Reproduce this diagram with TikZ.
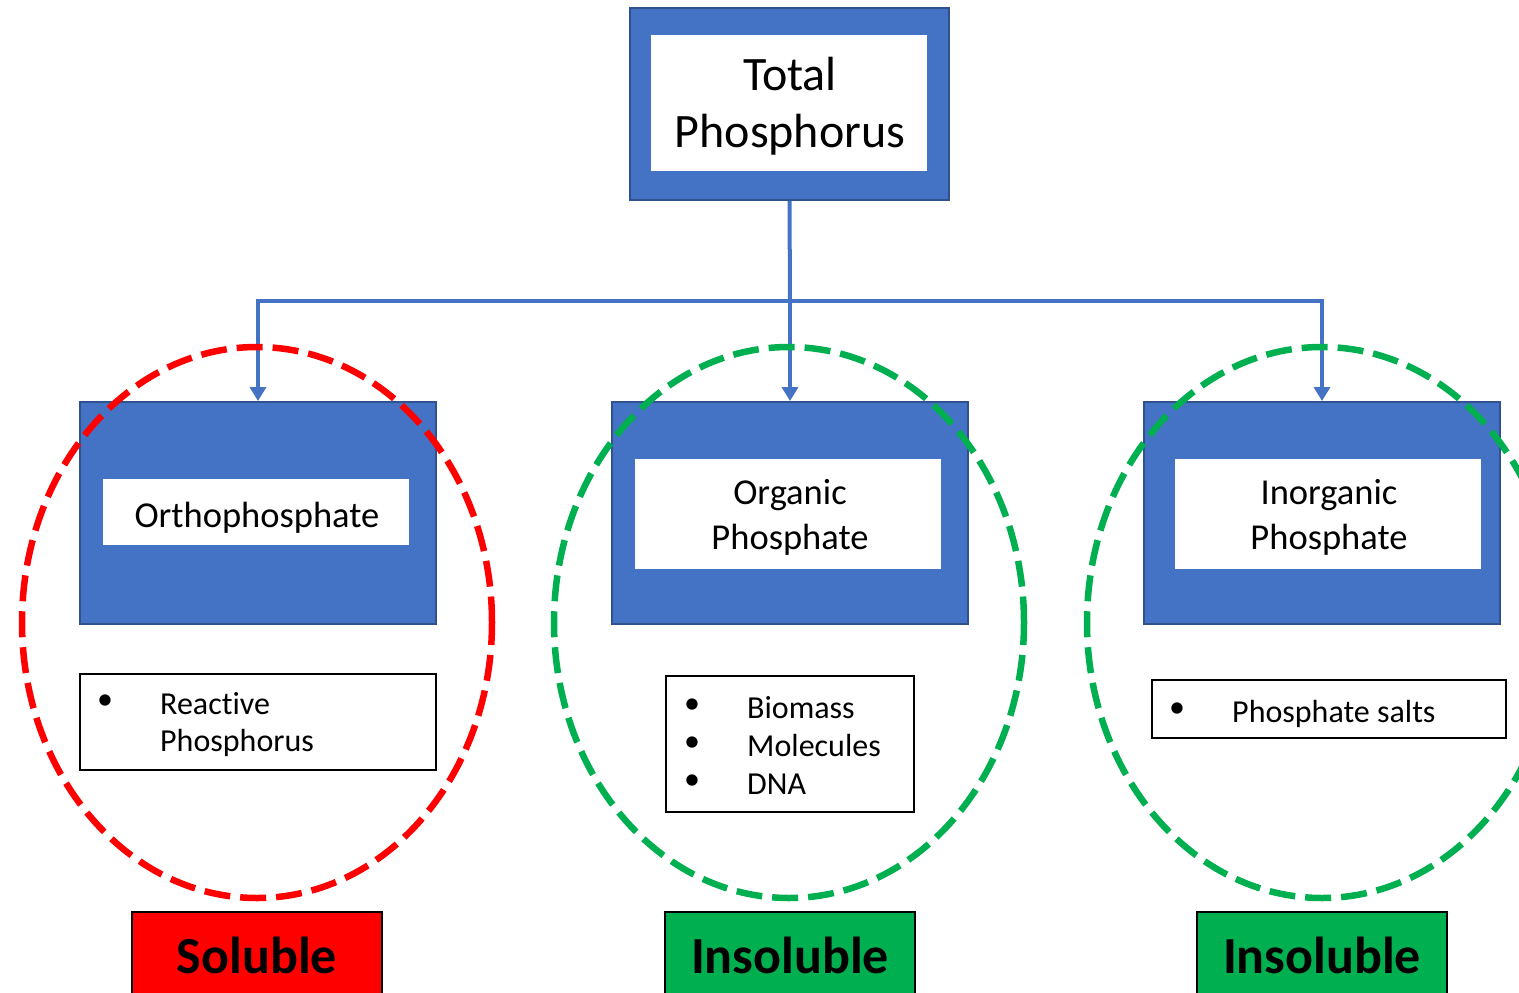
\documentclass[tikz,border=0pt]{standalone}
\usepackage{fontspec}
\setmainfont[Ligatures=NoCommon]{Carlito}
\usetikzlibrary{arrows.meta}
\definecolor{pblue}{HTML}{4472C4}
\definecolor{pdark}{HTML}{2F528F}
\definecolor{pgreen}{HTML}{00B050}
\definecolor{pred}{HTML}{FF0000}
\begin{document}
\begin{tikzpicture}[x=1pt,y=-1pt,
  outerbox/.style={draw=pdark, line width=2pt, fill=pblue, inner sep=0pt},
  innerbox/.style={fill=white, inner sep=0pt},
  listbox/.style={draw=black, line width=1.5pt, fill=white, inner sep=0pt},
  bigtxt/.style={font=\fontsize{48}{58}\selectfont, inner sep=0pt},
  midtxt/.style={font=\fontsize{36.5}{44}\selectfont, inner sep=0pt},
  smalltxt/.style={font=\fontsize{32}{38}\selectfont, inner sep=0pt},
  tagtxt/.style={font=\fontsize{52}{60}\selectfont\bfseries, inner sep=0pt},
  tagbox/.style={draw=black, line width=1.5pt, inner sep=0pt, minimum width=250pt, minimum height=100pt},
  conn/.style={draw=pblue, line width=4pt},
  arr/.style={conn, -{Triangle[width=16pt,length=14pt]}},
  reddash/.style={draw=pred, line width=6.5pt, dash pattern=on 26pt off 10pt},
  greendash/.style={draw=pgreen, line width=6.5pt, dash pattern=on 26pt off 10pt}
]
\clip (0,0) rectangle (1519,993);
\fill[white] (0,0) rectangle (1519,993);

% top box
\node[outerbox, minimum width=319pt, minimum height=192pt] (top) at (789.5,104) {};
\node[innerbox, minimum width=276pt, minimum height=136pt] (topin) at (789,103) {};
\node[bigtxt, anchor=base] (t1) at (790,90) {Total};
\node[bigtxt, anchor=base] (t2) at (790,147) {Phosphorus};

% category boxes
\node[outerbox, minimum width=356pt, minimum height=222pt] (o1) at (258,513) {};
\node[innerbox, minimum width=306pt, minimum height=66pt] (i1) at (256,512) {};
\node[midtxt, anchor=base] (l1) at (257,527) {Orthophosphate};

\node[outerbox, minimum width=356pt, minimum height=222pt] (o2) at (790,513) {};
\node[innerbox, minimum width=306pt, minimum height=110pt] (i2) at (788,514) {};
\node[midtxt, anchor=base] (l2a) at (790,504) {Organic};
\node[midtxt, anchor=base] (l2b) at (790,549) {Phosphate};

\node[outerbox, minimum width=356pt, minimum height=222pt] (o3) at (1322,513) {};
\node[innerbox, minimum width=306pt, minimum height=110pt] (i3) at (1328,514) {};
\node[midtxt, anchor=base] (l3a) at (1329,504) {Inorganic};
\node[midtxt, anchor=base] (l3b) at (1329,549) {Phosphate};

% connectors
\coordinate (j) at (790,301);
\draw[conn] (top.south) -- (j);
\draw[arr] (j) -| (o1.north);
\draw[arr] (j) -- (o2.north);
\draw[arr] (j) -| (o3.north);

% list boxes
\node[listbox, minimum width=356pt, minimum height=96pt] (b1) at (258,722) {};
\node[smalltxt, anchor=center] (b1d) at (105,702) {\textbullet};
\node[smalltxt, anchor=base west] (b1a) at (160,714) {Reactive};
\node[smalltxt, anchor=base west] (b1b) at (160,751) {Phosphorus};

\node[listbox, minimum width=248pt, minimum height=136pt] (b2) at (790,744) {};
\node[smalltxt, anchor=center] (b2d1) at (692,706) {\textbullet};
\node[smalltxt, anchor=center] (b2d2) at (692,744) {\textbullet};
\node[smalltxt, anchor=center] (b2d3) at (692,782) {\textbullet};
\node[smalltxt, anchor=base west] (b2a) at (747,718) {Biomass};
\node[smalltxt, anchor=base west] (b2b) at (747,756) {Molecules};
\node[smalltxt, anchor=base west] (b2c) at (747,794) {DNA};

\node[listbox, minimum width=354pt, minimum height=58pt] (b3) at (1329,709) {};
\node[smalltxt, anchor=center] (b3d) at (1177,710) {\textbullet};
\node[smalltxt, anchor=base west] (b3a) at (1232,722) {Phosphate salts};

% dashed ellipses
\draw[reddash] (257,622.5) ellipse [x radius=235pt, y radius=275.5pt];
\draw[greendash] (789,622.5) ellipse [x radius=235pt, y radius=275.5pt];
\draw[greendash] (1322,622.5) ellipse [x radius=235pt, y radius=275.5pt];

% tags
\node[tagbox, fill=pred] (s1) at (257,962) {};
\node[tagtxt, anchor=base] (s1t) at (257,973) {Soluble};
\node[tagbox, fill=pgreen] (s2) at (790,962) {};
\node[tagtxt, anchor=base] (s2t) at (790,973) {Insoluble};
\node[tagbox, fill=pgreen] (s3) at (1322,962) {};
\node[tagtxt, anchor=base] (s3t) at (1322,973) {Insoluble};
\end{tikzpicture}
\end{document}
